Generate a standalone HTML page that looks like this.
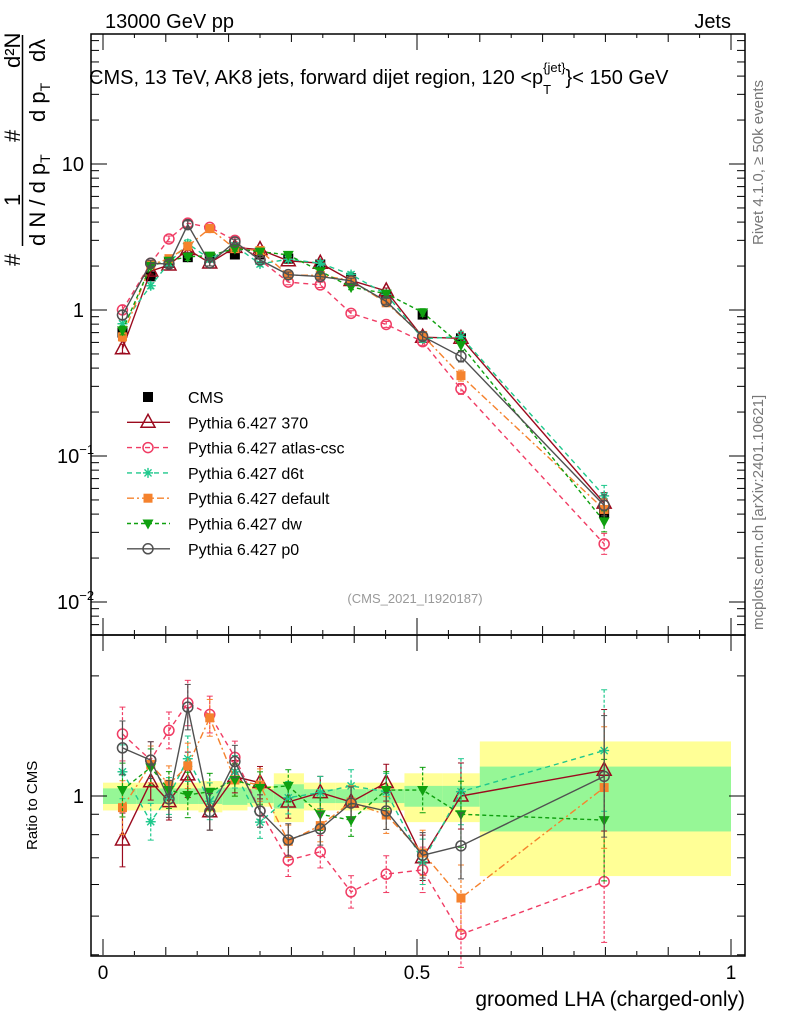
<!DOCTYPE html>
<html><head><meta charset="utf-8"><style>
body{margin:0;background:#fff;}
svg{display:block;font-family:"Liberation Sans",sans-serif;}
</style></head><body>
<svg id="chart" width="786" height="1024" xmlns="http://www.w3.org/2000/svg">
<g id="bands"></g><g id="main"></g><g id="ratio"></g><g id="axes"></g>
<text x="105" y="28" font-size="20">13000 GeV pp</text>
<text x="731" y="28" font-size="20" text-anchor="end">Jets</text>
<text x="89" y="84" font-size="20">CMS, 13 TeV, AK8 jets, forward dijet region, 120 &lt;p<tspan font-size="13" dy="10">T</tspan><tspan font-size="13" dy="-22" dx="-8">{jet}</tspan><tspan dy="12">}&lt; 150 GeV</tspan></text>
<text x="415" y="603" font-size="13" fill="#999" text-anchor="middle">(CMS_2021_I1920187)</text>
<text transform="translate(763,245) rotate(-90)" font-size="15" fill="#777">Rivet 4.1.0, ≥ 50k events</text>
<text transform="translate(763,630) rotate(-90)" font-size="15" fill="#777">mcplots.cern.ch [arXiv:2401.10621]</text>
<text x="745" y="1006" font-size="21" text-anchor="end">groomed LHA (charged-only)</text>
<text transform="translate(37,850) rotate(-90)" font-size="15">Ratio to CMS</text>
<g font-size="22">
<text transform="translate(20,266) rotate(-90)">#</text>
<text transform="translate(20,206) rotate(-90)">1</text>
<text transform="translate(20,142) rotate(-90)">#</text>
<text transform="translate(20,68) rotate(-90)">d²N</text>
<line x1="22.5" y1="35" x2="22.5" y2="246" stroke="#000" stroke-width="1.5"/>
<text transform="translate(45,246) rotate(-90)">d N / d p<tspan font-size="14" dy="5">T</tspan></text>
<text transform="translate(45,122) rotate(-90)">d p<tspan font-size="14" dy="5">T</tspan></text>
<text transform="translate(45,62) rotate(-90)">dλ</text>
</g>
<g id="legend"></g>
</svg>
<script>
const xs=[0.031,0.076,0.105,0.135,0.170,0.210,0.250,0.295,0.346,0.395,0.451,0.509,0.570,0.798];
const binEdges=[0,0.053,0.09,0.12,0.152,0.19,0.23,0.272,0.32,0.37,0.42,0.48,0.54,0.6,1.0];
const cms=[0.70,1.70,2.10,2.30,2.30,2.40,2.40,2.25,2.05,1.65,1.25,0.93,0.64,0.041];
const totErr=[0.08,0.08,0.08,0.08,0.09,0.08,0.06,0.14,0.08,0.08,0.08,0.14,0.14,0.37];
const statErr=[0.045,0.045,0.045,0.045,0.045,0.05,0.04,0.07,0.04,0.04,0.04,0.06,0.06,0.185];
const r370=[0.776,1.086,0.968,1.13,0.913,1.118,1.08,0.966,1.02,0.966,1.08,0.70,1.0,1.16];
const rAtlas=[1.43,1.23,1.46,1.71,1.6,1.25,0.917,0.69,0.725,0.575,0.637,0.653,0.45,0.61];
const rD6t=[1.15,0.862,1.0,1.24,0.97,1.15,0.86,0.99,1.02,1.06,1.025,0.684,1.025,1.30];
const rDefault=[0.935,1.2,1.07,1.19,1.57,1.097,1.065,0.77,0.843,0.966,0.896,0.72,0.555,1.05];
const rDw=[1.035,1.18,1.035,1.006,1.025,1.097,1.047,1.06,0.9,0.87,1.035,1.035,0.9,0.87];
const rP0=[1.32,1.23,0.983,1.67,0.913,1.22,0.917,0.776,0.827,0.96,0.917,0.71,0.75,1.12];
const relErr=[0.12,0.08,0.08,0.1,0.08,0.07,0.07,0.07,0.07,0.07,0.08,0.1,0.15,0.3];
const NS="http://www.w3.org/2000/svg";
const X=v=>103+628*v;
const YM=v=>310-146*Math.log10(v);
const YR=v=>796-399*Math.log10(v);
function el(t,a,p){const e=document.createElementNS(NS,t);for(const k in a)e.setAttribute(k,a[k]);p.appendChild(e);return e;}
const gB=document.getElementById('bands'),gM=document.getElementById('main'),gR=document.getElementById('ratio'),gA=document.getElementById('axes'),gL=document.getElementById('legend');
for(let i=0;i<xs.length;i++){
 const x0=X(binEdges[i]),x1=X(binEdges[i+1]);
 const y=el('rect',{x:x0,y:YR(1+totErr[i]),width:x1-x0,height:YR(1-totErr[i])-YR(1+totErr[i]),fill:'#ffff96'},gB);
 
 
 const g=el('rect',{x:x0,y:YR(1+statErr[i]),width:x1-x0,height:YR(1-statErr[i])-YR(1+statErr[i]),fill:'#96f796'},gB);
 
 
}
function marker(type,x,y,c,p){
 if(type==='sq')return el('rect',{x:x-5,y:y-5,width:10,height:10,fill:c},p);
 if(type==='sqs')return el('rect',{x:x-4.5,y:y-4.5,width:9,height:9,fill:c},p);
 if(type==='tri')return el('polygon',{points:`${x},${y-8} ${x-7},${y+5} ${x+7},${y+5}`,fill:'none',stroke:c,'stroke-width':1.5},p);
 if(type==='dtri')return el('polygon',{points:`${x},${y+6} ${x-5.5},${y-4} ${x+5.5},${y-4}`,fill:c},p);
 if(type==='circ')return el('circle',{cx:x,cy:y,r:5,fill:'none',stroke:c,'stroke-width':1.5},p);
 if(type==='star'){const g=el('g',{stroke:c,'stroke-width':1.4},p);for(const a of [0,45,90,135]){const r=a*Math.PI/180;el('line',{x1:x-5*Math.cos(r),y1:y-5*Math.sin(r),x2:x+5*Math.cos(r),y2:y+5*Math.sin(r)},g);}return g;}
}
const series=[
 {name:'Pythia 6.427 370',r:r370,c:'#9b0a1e',m:'tri',d:''},
 {name:'Pythia 6.427 atlas-csc',r:rAtlas,c:'#f03c64',m:'circ',d:'5,4'},
 {name:'Pythia 6.427 d6t',r:rD6t,c:'#1ec88c',m:'star',d:'5,4'},
 {name:'Pythia 6.427 default',r:rDefault,c:'#f5822d',m:'sqs',d:'7,3,2,3'},
 {name:'Pythia 6.427 dw',r:rDw,c:'#0fa00f',m:'dtri',d:'4,3'},
 {name:'Pythia 6.427 p0',r:rP0,c:'#505050',m:'circ',d:''}
];
function drawSeries(s,p,Y,valFn,errScale){
 const g=el('g',{},p);
 
 
 const pts=xs.map((x,i)=>X(x)+','+Y(valFn(i)));
 el('polyline',{points:pts.join(' '),fill:'none',stroke:s.c,'stroke-width':1.4,'stroke-dasharray':s.d},g);
 xs.forEach((x,i)=>{const v=valFn(i),e=relErr[i]*errScale;const px=X(x);
  el('line',{x1:px,x2:px,y1:Y(v*(1+e)),y2:Y(v/(1+e)),stroke:s.c,'stroke-width':1.2,'stroke-dasharray':s.d?'3,2':''},g);
  el('line',{x1:px-3,x2:px+3,y1:Y(v*(1+e)),y2:Y(v*(1+e)),stroke:s.c},g);
  el('line',{x1:px-3,x2:px+3,y1:Y(v/(1+e)),y2:Y(v/(1+e)),stroke:s.c},g);
  const m=marker(s.m,px,Y(v),s.c,g);
  
  
 });
}
const gc=el('g',{},gM);


xs.forEach((x,i)=>{const m=marker('sq',X(x),YM(cms[i]),'#000',gc);
 
 });
series.forEach(s=>{drawSeries(s,gM,YM,i=>cms[i]*s.r[i],0.6);drawSeries(s,gR,YR,i=>s.r[i],1.4);});
el('rect',{x:91,y:34,width:654,height:601,fill:'none',stroke:'#000','stroke-width':1.5},gA);
el('rect',{x:91,y:635,width:654,height:321,fill:'none',stroke:'#000','stroke-width':1.5},gA);
for(let d=-3;d<=1;d++){for(let k=1;k<10;k++){const v=k*Math.pow(10,d);const y=YM(v);if(y<35||y>634)continue;const L=k===1?16:8;
 el('line',{x1:91,x2:91+L,y1:y,y2:y,stroke:'#000'},gA);el('line',{x1:745-L,x2:745,y1:y,y2:y,stroke:'#000'},gA);}}
[[10,'10'],[1,'1']].forEach(([v,t])=>{const tx=el('text',{x:84,y:YM(v)+7,'font-size':20,'text-anchor':'end'},gA);tx.textContent=t;});
[[0.1,'−1'],[0.01,'−2']].forEach(([v,t])=>{const tx=el('text',{x:57,y:YM(v)+7,'font-size':20},gA);tx.textContent='10';const s=el('tspan',{'font-size':13,dy:-9},tx);s.textContent=t;});
[0.4,0.5,0.6,0.7,0.8,0.9,1,2].forEach(v=>{const y=YR(v);if(y<636||y>955)return;const L=v===1?16:8;
 el('line',{x1:91,x2:91+L,y1:y,y2:y,stroke:'#000'},gA);el('line',{x1:745-L,x2:745,y1:y,y2:y,stroke:'#000'},gA);});
const t1=el('text',{x:84,y:YR(1)+7,'font-size':20,'text-anchor':'end'},gA);t1.textContent='1';
for(let k=0;k<=20;k++){const v=k*0.05;const x=X(v);const L=k%10===0?16:(k%2===0?8:4);
 for(const [yb,ya] of [[955,635],[634,34]]){el('line',{x1:x,x2:x,y1:yb,y2:yb-L,stroke:'#000'},gA);el('line',{x1:x,x2:x,y1:ya,y2:ya+L,stroke:'#000'},gA);}}
[[0,'0'],[0.5,'0.5'],[1,'1']].forEach(([v,t])=>{const tx=el('text',{x:X(v),y:979,'font-size':19,'text-anchor':'middle'},gA);tx.textContent=t;});
const leg=[{name:'CMS',c:'#000',m:'sq',d:null}].concat(series);
leg.forEach((s,i)=>{const y=397+25.3*i;const g=el('g',{},gL);
 
 
 if(s.d!==null)el('line',{x1:127,x2:170,y1:y,y2:y,stroke:s.c,'stroke-width':1.4,'stroke-dasharray':s.d},g);
 marker(s.m,148,y,s.c,g);
 const tx=el('text',{x:188,y:y+6,'font-size':16},g);tx.textContent=s.name;});
</script>
</body></html>
